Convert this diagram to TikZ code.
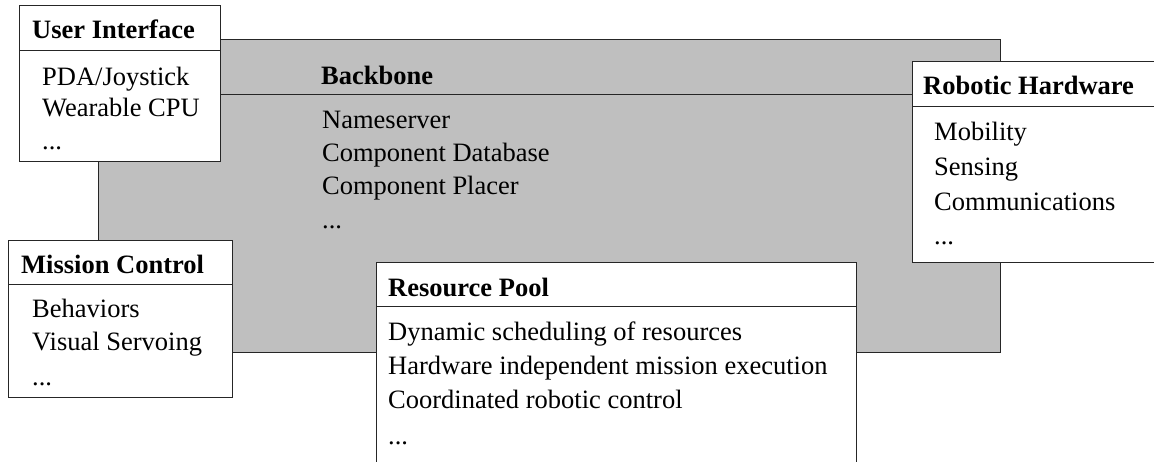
\documentclass[tikz,border=0pt]{standalone}
\usepackage{fontspec}
\setmainfont{Liberation Serif}
\begin{document}
\begin{tikzpicture}[x=1pt,y=-1pt,
  boxline/.style={draw=black!85,line width=1pt},
  panel/.style={boxline,fill=white},
  bbpanel/.style={boxline,fill=black!25},
  ttl/.style={anchor=base west,inner sep=0pt,font=\fontsize{26.5}{32}\selectfont\bfseries},
  itm/.style={anchor=base west,inner sep=0pt,font=\fontsize{26.5}{32}\selectfont}]
\useasboundingbox (0,0) rectangle (1154,462);
\clip (0,0) rectangle (1154,462);
% Backbone
\draw[bbpanel] (98,40) rectangle (1000,352);
\draw[boxline] (98,95) -- (1000,95);
\node[ttl] (bbt) at (321,85) {Backbone};
\node[itm] (bb1) at (322,129) {Nameserver};
\node[itm] (bb2) at (322,162) {Component Database};
\node[itm] (bb3) at (322,195) {Component Placer};
\node[itm] (bb4) at (322,229) {...};
% User Interface
\draw[panel] (19,6) rectangle (220,162);
\draw[boxline] (19,51) -- (220,51);
\node[ttl] (uit) at (32,39) {User Interface};
\node[itm] (ui1) at (42,86) {PDA/Joystick};
\node[itm] (ui2) at (42,117) {Wearable CPU};
\node[itm] (ui3) at (42,150) {...};
% Mission Control
\draw[panel] (8,241) rectangle (232,397);
\draw[boxline] (8,285) -- (232,285);
\node[ttl] (mct) at (21,274) {Mission Control};
\node[itm] (mc1) at (32,318) {Behaviors};
\node[itm] (mc2) at (32,350) {Visual Servoing};
\node[itm] (mc3) at (32,385) {...};
% Resource Pool
\draw[panel] (376,263) rectangle (856,480);
\draw[boxline] (376,307) -- (856,307);
\node[ttl] (rpt) at (388,297) {Resource Pool};
\node[itm] (rp1) at (388,341) {Dynamic scheduling of resources};
\node[itm] (rp2) at (388,374) {Hardware independent mission execution};
\node[itm] (rp3) at (388,408) {Coordinated robotic control};
\node[itm] (rp4) at (388,444) {...};
% Robotic Hardware
\draw[panel] (912,62) rectangle (1170,263);
\draw[boxline] (912,107) -- (1170,107);
\node[ttl] (rht) at (923,95) {Robotic Hardware};
\node[itm] (rh1) at (934,141) {Mobility};
\node[itm] (rh2) at (934,176) {Sensing};
\node[itm] (rh3) at (934,211) {Communications};
\node[itm] (rh4) at (934,245) {...};
\end{tikzpicture}
\end{document}
